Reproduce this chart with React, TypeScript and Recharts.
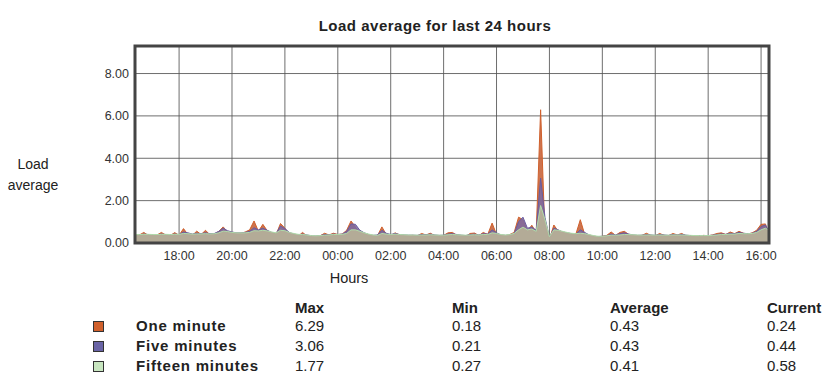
import {
  ComposedChart,
  Area,
  XAxis,
  YAxis,
  CartesianGrid,
  ReferenceArea,
} from "recharts";

// samples every 10 minutes, starting 16:20 yesterday
const START_HOUR = 16 + 20 / 60;
const STEP_HOURS = 10 / 60;

const oneMinute = [
  0.35, 0.38, 0.5, 0.36, 0.33, 0.38, 0.5, 0.37, 0.35, 0.49, 0.36, 0.68,
  0.4, 0.36, 0.56, 0.4, 0.6, 0.38, 0.42, 0.55, 0.76, 0.52, 0.5, 0.42,
  0.45, 0.52, 0.62, 1.04, 0.55, 0.88, 0.58, 0.45, 0.4, 0.92, 0.7, 0.4,
  0.3, 0.32, 0.5, 0.33, 0.28, 0.3, 0.34, 0.46, 0.38, 0.46, 0.4, 0.42,
  0.6, 1.04, 0.75, 0.45, 0.32, 0.28, 0.3, 0.35, 0.76, 0.4, 0.35, 0.48,
  0.38, 0.35, 0.34, 0.36, 0.33, 0.45, 0.38, 0.46, 0.35, 0.32, 0.36, 0.48,
  0.5, 0.36, 0.33, 0.3, 0.45, 0.47, 0.35, 0.5, 0.4, 0.94, 0.4, 0.3,
  0.33, 0.4, 0.5, 1.22, 1.1, 0.55, 0.84, 0.5, 6.29, 0.3, 0.18, 0.85,
  0.55, 0.48, 0.45, 0.4, 0.42, 1.1, 0.4, 0.3, 0.25, 0.26, 0.32, 0.36,
  0.52, 0.36, 0.5, 0.55, 0.4, 0.35, 0.34, 0.36, 0.46, 0.36, 0.34, 0.45,
  0.36, 0.34, 0.45, 0.38, 0.45, 0.34, 0.32, 0.3, 0.33, 0.36, 0.34, 0.38,
  0.45, 0.48, 0.4, 0.52, 0.44, 0.55, 0.46, 0.42, 0.48, 0.6, 0.88, 0.9,
  0.24,
];

const fiveMinutes = [
  0.38, 0.38, 0.42, 0.4, 0.38, 0.39, 0.42, 0.4, 0.39, 0.42, 0.4, 0.52,
  0.48, 0.42, 0.46, 0.44, 0.48, 0.44, 0.45, 0.55, 0.7, 0.58, 0.52, 0.48,
  0.48, 0.5, 0.55, 0.72, 0.62, 0.7, 0.6, 0.5, 0.45, 0.8, 0.68, 0.5,
  0.42, 0.38, 0.42, 0.38, 0.34, 0.33, 0.35, 0.4, 0.38, 0.42, 0.4, 0.42,
  0.55, 0.9, 0.88, 0.6, 0.48, 0.4, 0.36, 0.38, 0.6, 0.46, 0.4, 0.45,
  0.4, 0.38, 0.37, 0.37, 0.36, 0.4, 0.39, 0.42, 0.38, 0.36, 0.37, 0.42,
  0.44, 0.4, 0.37, 0.35, 0.4, 0.42, 0.38, 0.44, 0.42, 0.62, 0.48, 0.38,
  0.36, 0.38, 0.45, 1.0, 1.22, 0.7, 0.75, 0.6, 3.06, 1.2, 0.25, 0.7,
  0.62, 0.52, 0.48, 0.44, 0.42, 0.62, 0.5, 0.38, 0.32, 0.3, 0.32, 0.34,
  0.42, 0.38, 0.44, 0.48, 0.42, 0.38, 0.36, 0.37, 0.4, 0.38, 0.36, 0.4,
  0.38, 0.36, 0.4, 0.38, 0.41, 0.37, 0.35, 0.33, 0.34, 0.35, 0.35, 0.37,
  0.4, 0.43, 0.41, 0.46, 0.44, 0.5, 0.46, 0.44, 0.46, 0.55, 0.78, 0.85,
  0.44,
];

const fifteenMinutes = [
  0.4, 0.4, 0.41, 0.41, 0.4, 0.4, 0.41, 0.41, 0.4, 0.41, 0.41, 0.45,
  0.44, 0.42, 0.43, 0.43, 0.44, 0.43, 0.44, 0.48, 0.56, 0.54, 0.5, 0.48,
  0.48, 0.48, 0.5, 0.58, 0.57, 0.6, 0.57, 0.52, 0.48, 0.6, 0.58, 0.5,
  0.45, 0.41, 0.4, 0.38, 0.35, 0.34, 0.35, 0.37, 0.38, 0.4, 0.4, 0.41,
  0.45, 0.62, 0.62, 0.55, 0.48, 0.42, 0.38, 0.36, 0.45, 0.42, 0.4, 0.42,
  0.4, 0.39, 0.38, 0.38, 0.37, 0.38, 0.38, 0.39, 0.38, 0.37, 0.37, 0.39,
  0.4, 0.39, 0.38, 0.37, 0.38, 0.39, 0.38, 0.4, 0.4, 0.48, 0.45, 0.4,
  0.38, 0.4, 0.45, 0.62, 0.75, 0.62, 0.66, 0.55, 1.77, 1.1, 0.3, 0.62,
  0.6, 0.55, 0.5, 0.46, 0.44, 0.46, 0.44, 0.4, 0.35, 0.32, 0.32, 0.34,
  0.37, 0.37, 0.38, 0.4, 0.4, 0.39, 0.38, 0.37, 0.38, 0.38, 0.37, 0.38,
  0.37, 0.37, 0.38, 0.38, 0.38, 0.37, 0.36, 0.35, 0.35, 0.35, 0.35, 0.36,
  0.38, 0.4, 0.4, 0.42, 0.42, 0.45, 0.44, 0.44, 0.45, 0.5, 0.62, 0.7,
  0.58,
];

const hourTicks = [18, 20, 22, 24, 26, 28, 30, 32, 34, 36, 38, 40];
const loadTicks = [0, 2, 4, 6, 8];

const seriesNames = ["One minute", "Five minutes", "Fifteen minutes"];
const seriesColors = ["#d0602c", "#6a64a6", "#c8e6c0"];
const statHeaders = ["Max", "Min", "Average", "Current"];
const statValues = [
  ["6.29", "0.18", "0.43", "0.24"],
  ["3.06", "0.21", "0.43", "0.44"],
  ["1.77", "0.27", "0.41", "0.58"],
];

const data = oneMinute.map((v, i) => ({
  t: START_HOUR + i * STEP_HOURS,
  one: v,
  five: fiveMinutes[i],
  fifteen: fifteenMinutes[i],
}));

const X_MIN = START_HOUR;
const X_MAX = 40.3;
const Y_MAX = 9.3;

const fmtHour = (h: number) => String(h % 24).padStart(2, "0") + ":00";

const statCols = [295, 452, 610, 767];
const rowY = [326, 346, 366];

export default function App() {
  return (
    <div
      style={{
        position: "absolute",
        left: 0,
        top: 0,
        width: 839,
        height: 385,
        background: "#fff",
        fontFamily: "'Liberation Sans', Arial, sans-serif",
        color: "#222",
      }}
    >
      <div
        style={{
          position: "absolute",
          left: 235,
          width: 400,
          top: 17,
          textAlign: "center",
          fontSize: 15,
          fontWeight: "bold",
          letterSpacing: 0.5,
        }}
      >
        Load average for last 24 hours
      </div>
      <div
        style={{
          position: "absolute",
          left: 0,
          width: 66,
          top: 154,
          textAlign: "center",
          fontSize: 14,
          lineHeight: "21px",
        }}
      >
        Load
        <br />
        average
      </div>

      <ComposedChart
        width={839}
        height={290}
        data={data}
        margin={{ top: 46, right: 70, bottom: 27, left: 0 }}
      >
        <XAxis
          dataKey="t"
          type="number"
          domain={[X_MIN, X_MAX]}
          allowDataOverflow
          ticks={hourTicks}
          tickFormatter={fmtHour}
          axisLine={false}
          tickLine={false}
          tick={{ fontSize: 12.5, fill: "#333" }}
          height={20}
        />
        <YAxis
          type="number"
          domain={[0, Y_MAX]}
          allowDataOverflow
          ticks={loadTicks}
          tickFormatter={(v: number) => v.toFixed(2)}
          axisLine={false}
          tickLine={false}
          tickSize={4}
          tick={{ fontSize: 12.5, fill: "#333" }}
          width={135}
        />
        <Area
          type="linear"
          dataKey="one"
          stroke="#d0602c"
          strokeWidth={1}
          fill="#c8653c"
          fillOpacity={0.9}
          dot={false}
          activeDot={false}
          isAnimationActive={false}
        />
        <Area
          type="linear"
          dataKey="five"
          stroke="#6a5c9e"
          strokeWidth={1}
          fill="#7a6aa2"
          fillOpacity={0.85}
          dot={false}
          activeDot={false}
          isAnimationActive={false}
        />
        <Area
          type="linear"
          dataKey="fifteen"
          stroke="#b0dcaa"
          strokeWidth={1}
          fill="#b3ab97"
          fillOpacity={1}
          dot={false}
          activeDot={false}
          isAnimationActive={false}
        />
        <CartesianGrid stroke="#555" strokeOpacity={0.85} />
        <ReferenceArea
          x1={X_MIN}
          x2={X_MAX}
          y1={0}
          y2={Y_MAX}
          fill="none"
          stroke="#444"
          strokeWidth={3}
        />
      </ComposedChart>

      <div
        style={{
          position: "absolute",
          left: 339,
          top: 270,
          width: 20,
          textAlign: "center",
          fontSize: 14.5,
          display: "flex",
          justifyContent: "center",
        }}
      >
        Hours
      </div>

      {statHeaders.map((h, c) => (
        <div
          key={h}
          style={{
            position: "absolute",
            left: statCols[c],
            top: 299,
            fontSize: 15,
            fontWeight: "bold",
          }}
        >
          {h}
        </div>
      ))}
      {seriesNames.map((name, r) => (
        <div key={name}>
          <div
            style={{
              position: "absolute",
              left: 93,
              top: rowY[r] - 5,
              width: 9,
              height: 9,
              background: seriesColors[r],
              border: "1px solid #333",
            }}
          />
          <div
            style={{
              position: "absolute",
              left: 136,
              top: rowY[r] - 9,
              fontSize: 15,
              fontWeight: "bold",
              letterSpacing: 0.8,
              lineHeight: "18px",
            }}
          >
            {name}
          </div>
          {statValues[r].map((v, c) => (
            <div
              key={c}
              style={{
                position: "absolute",
                left: statCols[c],
                top: rowY[r] - 9,
                fontSize: 15,
                lineHeight: "18px",
              }}
            >
              {v}
            </div>
          ))}
        </div>
      ))}
    </div>
  );
}
